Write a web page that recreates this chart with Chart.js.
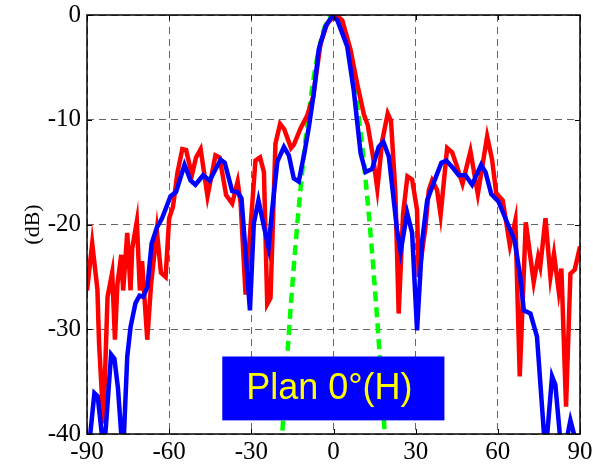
<!DOCTYPE html>
<html>
<head>
<meta charset="utf-8">
<script src="https://cdn.jsdelivr.net/npm/chart.js@4/dist/chart.umd.min.js"></script>
<style>
html,body{margin:0;padding:0;background:#fff;}
#wrap{width:593px;height:465px;}
</style>
</head>
<body>
<div id="wrap"><canvas id="c" width="593" height="465"></canvas></div>
<script>
// ---- data ----
const xTicks = [-90, -60, -30, 0, 30, 60, 90];
const yTicks = [-40, -30, -20, -10, 0];
const yLabel = "(dB)";
const boxText = "Plan 0°(H)";

const redAngles = [-90, -88.1, -86.2, -85.6, -84.0, -82.5, -80.8, -79.8, -78.9, -77.5, -76.8, -75.3, -74.1, -73.5, -71.8, -70.7, -69.9, -68.0, -66.6, -64.5, -63.0, -61.3, -60.0, -58.6, -57.0, -55.2, -53.8, -51.7, -50.2, -48.5, -46.0, -43.1, -41.6, -39.2, -37.0, -35.0, -33.9, -32.1, -28.5, -26.8, -25.4, -24.2, -23.0, -21.2, -19.5, -18.0, -15.5, -14.5, -12.0, -9.6, -7.5, -4.7, -2.3, 0.7, 3.2, 6.2, 8.6, 11.1, 12.5, 14.4, 16.0, 17.8, 19.8, 21.0, 22.6, 23.8, 25.4, 27.0, 28.7, 30.5, 31.1, 33.6, 34.8, 36.0, 37.8, 39.1, 41.5, 43.3, 44.5, 47.1, 50.0, 52.7, 56.1, 57.9, 59.4, 61.8, 64.4, 66.4, 68.0, 70.2, 73.1, 74.7, 75.5, 77.4, 79.2, 80.5, 82.2, 83.2, 84.9, 86.5, 88.1, 90];
const redDb = [-26.3, -21.8, -26.2, -31.3, -39.0, -26.9, -24.6, -31.0, -25.7, -22.9, -26.3, -20.8, -26.3, -22.3, -19.7, -26.3, -23.5, -31.0, -25.7, -20.6, -24.6, -25.0, -19.4, -18.3, -15.1, -12.8, -12.9, -15.3, -13.6, -12.8, -17.3, -13.4, -13.6, -17.2, -18.0, -15.9, -18.0, -26.7, -13.9, -13.6, -15.0, -27.6, -27.0, -12.3, -10.4, -10.9, -12.7, -12.4, -10.8, -9.6, -7.9, -2.7, -0.8, 0.0, -0.5, -3.3, -6.5, -9.5, -10.5, -13.5, -16.6, -12.0, -9.4, -10.1, -17.0, -28.5, -19.0, -15.4, -15.7, -18.6, -25.0, -20.2, -16.7, -15.8, -16.7, -19.1, -12.7, -13.1, -14.0, -16.1, -13.0, -17.1, -11.6, -13.8, -17.0, -17.7, -22.0, -19.6, -34.5, -19.8, -25.5, -23.1, -24.0, -19.4, -25.0, -22.8, -26.3, -24.2, -37.4, -24.7, -24.3, -22.1];

const blueAngles = [-90, -88.8, -87.3, -86.1, -84.6, -84.0, -83.3, -81.2, -80.0, -78.7, -77.5, -77.0, -76.5, -75.3, -74.1, -72.3, -70.8, -69.5, -68.0, -66.4, -64.5, -62.6, -59.5, -57.5, -54.4, -52.2, -50.4, -47.6, -45.2, -41.2, -39.7, -37.0, -35.1, -33.6, -30.5, -29.1, -27.4, -25.4, -23.7, -22.4, -20.5, -18.1, -16.3, -14.5, -12.7, -10.5, -9.0, -7.2, -5.4, -2.9, -0.5, 1.4, 5.0, 7.4, 9.9, 11.7, 14.1, 16.5, 18.2, 20.2, 23.2, 24.5, 26.9, 28.7, 30.5, 32.4, 34.2, 36.6, 39.4, 41.2, 43.3, 45.7, 48.2, 50.6, 53.9, 55.5, 57.6, 60.2, 63.7, 66.1, 68.2, 69.5, 71.9, 74.3, 77.4, 79.8, 81.0, 82.8, 84.0, 86.5, 88.3, 90];
const blueDb = [-42.0, -40.0, -36.1, -36.4, -40.0, -42.0, -40.0, -32.4, -32.8, -35.6, -40.0, -41.5, -40.0, -32.6, -29.8, -27.5, -26.8, -26.9, -26.0, -21.8, -20.3, -19.4, -17.3, -16.9, -14.3, -15.8, -16.2, -15.3, -15.8, -13.8, -14.1, -16.8, -16.9, -17.5, -28.2, -19.9, -17.7, -20.2, -22.2, -18.6, -14.0, -12.6, -13.4, -15.6, -15.9, -13.0, -10.7, -7.5, -3.3, -1.1, -0.1, -0.5, -3.0, -7.2, -13.2, -15.0, -14.7, -12.6, -12.1, -13.5, -20.5, -22.6, -18.9, -20.8, -30.1, -21.5, -17.7, -16.0, -14.1, -13.9, -14.5, -15.3, -15.3, -16.2, -14.3, -15.0, -17.1, -17.8, -20.0, -21.5, -25.0, -28.2, -28.5, -30.7, -42.0, -34.5, -35.3, -40.5, -42.0, -38.7, -40.5, -42.0];

const greenAngles = [-19, -18, -17, -16, -15, -14, -13, -12, -11, -10, -9, -8, -7, -6, -5, -4, -3, -2, -1, 0, 1, 2, 3, 4, 5, 6, 7, 8, 9, 10, 11, 12, 13, 14, 15, 16, 17, 18, 19];
const greenDb = [-41.2, -37.0, -33.0, -29.2, -25.7, -22.4, -19.3, -16.5, -13.8, -11.4, -9.3, -7.3, -5.6, -4.1, -2.9, -1.8, -1.0, -0.5, -0.1, 0.0, -0.1, -0.5, -1.0, -1.8, -2.9, -4.1, -5.6, -7.3, -9.3, -11.4, -13.8, -16.5, -19.3, -22.4, -25.7, -29.2, -33.0, -37.0, -41.2];

// label box extent in data units
const boxX = [-40.6, 40.5];
const boxY = [-32.6, -38.7];

function pts(xs, ys) { return xs.map((x, i) => ({x: x, y: ys[i]})); }

const SERIF = '"Liberation Serif", "Times New Roman", serif';

const framePlugin = {
  id: 'frame',
  afterDatasetsDraw(chart) {
    const ctx = chart.ctx, a = chart.chartArea;
    const xs = chart.scales.x, ys = chart.scales.y;
    ctx.save();
    ctx.strokeStyle = '#000';
    ctx.lineWidth = 1.5;
    ctx.strokeRect(a.left, a.top, a.right - a.left, a.bottom - a.top);
    ctx.lineWidth = 1;
    ctx.beginPath();
    xTicks.forEach(v => {
      const px = Math.round(xs.getPixelForValue(v)) + 0.5;
      ctx.moveTo(px, a.bottom); ctx.lineTo(px, a.bottom - 5);
      ctx.moveTo(px, a.top); ctx.lineTo(px, a.top + 5);
    });
    yTicks.forEach(v => {
      const py = Math.round(ys.getPixelForValue(v)) + 0.5;
      ctx.moveTo(a.left, py); ctx.lineTo(a.left + 5, py);
      ctx.moveTo(a.right, py); ctx.lineTo(a.right - 5, py);
    });
    ctx.stroke();
    const bx0 = xs.getPixelForValue(boxX[0]), bx1 = xs.getPixelForValue(boxX[1]);
    const by0 = ys.getPixelForValue(boxY[0]), by1 = ys.getPixelForValue(boxY[1]);
    ctx.fillStyle = '#0000ff';
    ctx.fillRect(bx0, by0, bx1 - bx0, by1 - by0);
    ctx.fillStyle = '#ffff00';
    ctx.font = '36px "Liberation Sans", Arial, sans-serif';
    ctx.textAlign = 'center';
    ctx.textBaseline = 'middle';
    ctx.fillText(boxText, (bx0 + bx1) / 2 - 4, (by0 + by1) / 2 + 1);
    ctx.fillStyle = '#000';
    ctx.font = '22px ' + SERIF;
    ctx.translate(33, (a.top + a.bottom) / 2);
    ctx.rotate(-Math.PI / 2);
    ctx.textAlign = 'center';
    ctx.textBaseline = 'middle';
    ctx.fillText(yLabel, 0, 0);
    ctx.restore();
  }
};

new Chart(document.getElementById('c'), {
  type: 'line',
  data: {
    datasets: [
      { label: 'blue', data: pts(blueAngles, blueDb), borderColor: '#0000ff', borderWidth: 4.5, pointRadius: 0, tension: 0, order: 0 },
      { label: 'red', data: pts(redAngles, redDb), borderColor: '#ff0000', borderWidth: 4.5, pointRadius: 0, tension: 0, order: 1 },
      { label: 'green', data: pts(greenAngles, greenDb), borderColor: '#00ff00', borderWidth: 4.5, borderDash: [10, 6], pointRadius: 0, tension: 0, order: 2 }
    ]
  },
  options: {
    responsive: false,
    animation: false,
    events: [],
    layout: { padding: { left: 0, right: 13, top: 15, bottom: 0 } },
    plugins: { legend: { display: false }, tooltip: { enabled: false } },
    scales: {
      x: {
        type: 'linear', min: -90, max: 90,
        afterBuildTicks: s => { s.ticks = xTicks.map(v => ({value: v})); },
        afterFit: s => { s.height = 31; s.paddingLeft = 0; s.paddingRight = 0; },
        border: { display: false, dash: [7, 5] },
        grid: { color: 'rgba(0,0,0,0.6)', lineWidth: 1, drawTicks: false },
        ticks: { color: '#000', font: { family: SERIF, size: 25 }, padding: 3, maxRotation: 0, autoSkip: false, callback: v => String(v) }
      },
      y: {
        type: 'linear', min: -40, max: 0,
        afterBuildTicks: s => { s.ticks = yTicks.map(v => ({value: v})); },
        afterFit: s => { s.width = 87; s.paddingTop = 0; s.paddingBottom = 0; },
        border: { display: false, dash: [7, 5] },
        grid: { color: 'rgba(0,0,0,0.6)', lineWidth: 1, drawTicks: false },
        ticks: { color: '#000', font: { family: SERIF, size: 25 }, padding: 6, autoSkip: false, callback: v => String(v) }
      }
    }
  },
  plugins: [framePlugin]
});
</script>
</body>
</html>
